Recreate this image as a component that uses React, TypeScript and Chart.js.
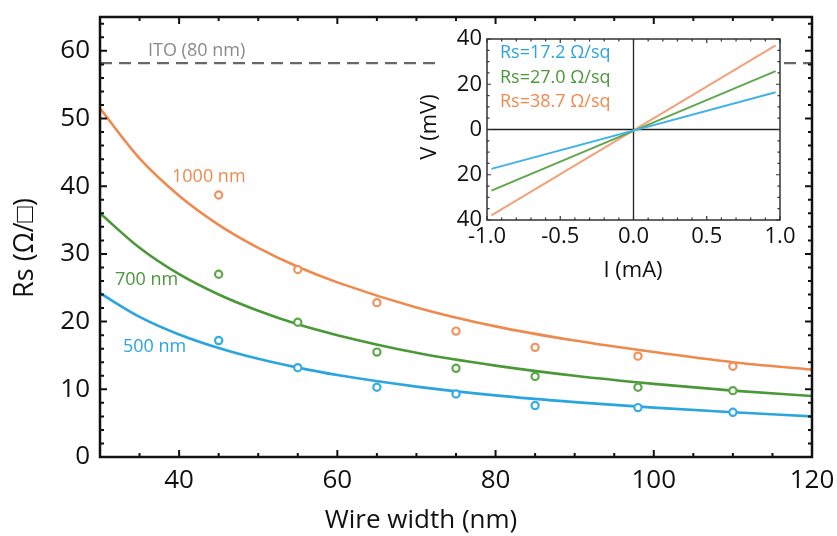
import React, { useEffect, useRef } from "react";
import { Chart, registerables } from "chart.js";

Chart.register(...registerables);

// ---------- Main chart data ----------
const WIDTHS = [45, 55, 65, 75, 85, 98, 110];
const RS_1000 = [38.7, 27.7, 22.8, 18.6, 16.2, 14.9, 13.4];
const RS_700 = [27.0, 19.9, 15.5, 13.1, 11.9, 10.3, 9.8];
const RS_500 = [17.2, 13.2, 10.3, 9.3, 7.6, 7.3, 6.6];

const FIT_X = [30, 35, 40, 45, 50, 55, 60, 70, 80, 90, 100, 110, 120];
const FIT_1000 = [51.5, 44.1, 38.6, 34.3, 30.9, 28.1, 25.8, 22.1, 19.3, 17.2, 15.5, 14.0, 12.9];
const FIT_700 = [36.0, 30.9, 27.0, 24.0, 21.6, 19.6, 18.0, 15.4, 13.5, 12.0, 10.8, 9.8, 9.0];
const FIT_500 = [24.2, 20.7, 18.1, 16.1, 14.5, 13.2, 12.1, 10.4, 9.1, 8.1, 7.3, 6.6, 6.0];

const ITO_X = [30, 120];
const ITO_Y = [58.2, 58.2];

const X_TICKS = [40, 60, 80, 100, 120];
const Y_TICKS = [0, 10, 20, 30, 40, 50, 60];

// ---------- Inset data ----------
const I_VALUES = [-0.97, 0.97];
const V_17 = [-17.4, 16.5];
const V_27 = [-27.0, 25.8];
const V_38 = [-38.0, 37.2];
const INSET_X_TICKS = [-1, -0.5, 0, 0.5, 1];
const INSET_Y_TICKS = [-40, -20, 0, 20, 40];
const INSET_LEGEND = ["Rs=17.2 Ω/sq", "Rs=27.0 Ω/sq", "Rs=38.7 Ω/sq"];

const ORANGE = "#ef8a4f";
const ORANGE_DOT = "#f0935c";
const GREEN = "#4a9838";
const GREEN_DOT = "#5ca848";
const BLUE = "#2aa5de";
const BLUE_DOT = "#35ace2";

const FONT = "'Open Sans', 'Noto Sans', sans-serif";

const pts = (xs: number[], ys: number[]) => xs.map((x, i) => ({ x, y: ys[i] }));

function drawTicks(ctx: CanvasRenderingContext2D, chart: any, xs: number[], xMajor: number[], ys: number[], yMajor: number[], majorLen: number, minorLen: number) {
  const a = chart.chartArea;
  const sx = chart.scales.x;
  const sy = chart.scales.y;
  ctx.beginPath();
  for (const v of xs) {
    const px = sx.getPixelForValue(v);
    const len = xMajor.some((m) => Math.abs(m - v) < 1e-6) ? majorLen : minorLen;
    ctx.moveTo(px, a.bottom);
    ctx.lineTo(px, a.bottom - len);
    ctx.moveTo(px, a.top);
    ctx.lineTo(px, a.top + len);
  }
  for (const v of ys) {
    const py = sy.getPixelForValue(v);
    const len = yMajor.some((m) => Math.abs(m - v) < 1e-6) ? majorLen : minorLen;
    ctx.moveTo(a.left, py);
    ctx.lineTo(a.left + len, py);
    ctx.moveTo(a.right, py);
    ctx.lineTo(a.right - len, py);
  }
  ctx.stroke();
}

const mainPlugin = {
  id: "mainDecor",
  afterDraw(chart: any) {
    const ctx: CanvasRenderingContext2D = chart.ctx;
    const a = chart.chartArea;
    ctx.save();
    ctx.font = `18px ${FONT}`;
    ctx.textBaseline = "middle";
    ctx.textAlign = "left";
    ctx.fillStyle = "#8a8a8a";
    ctx.fillText("ITO (80 nm)", 148, 51);
    ctx.fillStyle = ORANGE;
    ctx.fillText("1000 nm", 172, 177);
    ctx.fillStyle = GREEN;
    ctx.fillText("700 nm", 115, 280);
    ctx.fillStyle = BLUE;
    ctx.fillText("500 nm", 123, 347);

    ctx.fillStyle = "#111";
    ctx.font = `26px ${FONT}`;
    ctx.textAlign = "center";
    ctx.fillText("Wire width (nm)", 421, 521);
    ctx.save();
    ctx.translate(25, 248);
    ctx.rotate(-Math.PI / 2);
    ctx.font = `27px ${FONT}`;
    ctx.fillText("Rs (Ω/□)", 0, 0);
    ctx.restore();

    ctx.strokeStyle = "#111";
    ctx.lineWidth = 2;
    const xs: number[] = [];
    for (let v = 30; v <= 120; v += 5) xs.push(v);
    const ys: number[] = [];
    for (let v = 0; v <= 64; v += 2) ys.push(v);
    drawTicks(ctx, chart, xs, X_TICKS, ys, Y_TICKS, 7, 4);
    ctx.lineWidth = 2.5;
    ctx.strokeRect(a.left, a.top, a.right - a.left, a.bottom - a.top);
    ctx.restore();
  },
};

const INSET_WHITE_LEFT = 24;
const INSET_WHITE_RIGHT = 367;

const insetPlugin = {
  id: "insetDecor",
  beforeDraw(chart: any) {
    const ctx: CanvasRenderingContext2D = chart.ctx;
    ctx.save();
    ctx.fillStyle = "#ffffff";
    ctx.fillRect(INSET_WHITE_LEFT, 0, INSET_WHITE_RIGHT - INSET_WHITE_LEFT, chart.height);
    ctx.restore();
  },
  beforeDatasetsDraw(chart: any) {
    const ctx: CanvasRenderingContext2D = chart.ctx;
    const a = chart.chartArea;
    const sx = chart.scales.x;
    const sy = chart.scales.y;
    ctx.save();
    ctx.strokeStyle = "#222";
    ctx.lineWidth = 1.3;
    ctx.beginPath();
    const x0 = sx.getPixelForValue(0);
    const y0 = sy.getPixelForValue(0);
    ctx.moveTo(x0, a.top);
    ctx.lineTo(x0, a.bottom);
    ctx.moveTo(a.left, y0);
    ctx.lineTo(a.right, y0);
    ctx.stroke();
    ctx.restore();
  },
  afterDraw(chart: any) {
    const ctx: CanvasRenderingContext2D = chart.ctx;
    const a = chart.chartArea;
    ctx.save();
    ctx.font = `18px ${FONT}`;
    ctx.textBaseline = "middle";
    ctx.textAlign = "left";
    const cols = [BLUE, GREEN, ORANGE];
    INSET_LEGEND.forEach((t, i) => {
      ctx.fillStyle = cols[i];
      ctx.fillText(t, 84, 28 + i * 24.5);
    });
    ctx.fillStyle = "#111";
    ctx.font = `22px ${FONT}`;
    ctx.textAlign = "center";
    ctx.fillText("I (mA)", 217, 246);
    ctx.save();
    ctx.translate(14, 102);
    ctx.rotate(-Math.PI / 2);
    ctx.fillText("V (mV)", 0, 0);
    ctx.restore();

    ctx.strokeStyle = "#333";
    ctx.lineWidth = 1.2;
    const xs: number[] = [];
    for (let v = -10; v <= 10; v += 1) xs.push(v / 10);
    const ys: number[] = [];
    for (let v = -40; v <= 40; v += 5) ys.push(v);
    drawTicks(ctx, chart, xs, INSET_X_TICKS, ys, INSET_Y_TICKS, 4, 2.5);
    ctx.lineWidth = 1.5;
    ctx.strokeRect(a.left, a.top, a.right - a.left, a.bottom - a.top);
    ctx.restore();
  },
};

const noPadX = (h: number) => (s: any) => {
  s.height = h;
  s.paddingLeft = 0;
  s.paddingRight = 0;
};
const noPadY = (w: number) => (s: any) => {
  s.width = w;
  s.paddingTop = 0;
  s.paddingBottom = 0;
};

export default function App() {
  const mainRef = useRef<HTMLCanvasElement>(null);
  const insetRef = useRef<HTMLCanvasElement>(null);

  useEffect(() => {
    const dot = (label: string, ys: number[], color: string) => ({
      label,
      data: pts(WIDTHS, ys),
      showLine: false,
      pointRadius: 3.6,
      pointBorderWidth: 2.2,
      pointBorderColor: color,
      pointBackgroundColor: "#ffffff",
      order: 0,
    });
    const fit = (label: string, ys: number[], color: string) => ({
      label,
      data: pts(FIT_X, ys),
      showLine: true,
      borderColor: color,
      borderWidth: 2.6,
      pointRadius: 0,
      cubicInterpolationMode: "monotone" as const,
      order: 1,
    });
    const main = new Chart(mainRef.current!, {
      type: "scatter",
      data: {
        datasets: [
          dot("1000 nm data", RS_1000, ORANGE_DOT),
          dot("700 nm data", RS_700, GREEN_DOT),
          dot("500 nm data", RS_500, BLUE_DOT),
          fit("1000 nm fit", FIT_1000, ORANGE),
          fit("700 nm fit", FIT_700, GREEN),
          fit("500 nm fit", FIT_500, BLUE),
          {
            label: "ITO (80 nm)",
            data: pts(ITO_X, ITO_Y),
            showLine: true,
            borderColor: "#686868",
            borderWidth: 2.3,
            borderDash: [12, 7],
            pointRadius: 0,
            order: 2,
          },
        ],
      },
      options: {
        animation: false,
        responsive: false,
        layout: { padding: { left: 0, top: 17, right: 25, bottom: 0 } },
        plugins: { legend: { display: false }, tooltip: { enabled: false } },
        scales: {
          x: {
            type: "linear",
            min: 30,
            max: 120,
            afterBuildTicks: (s: any) => {
              s.ticks = X_TICKS.map((v) => ({ value: v }));
            },
            afterFit: noPadX(79),
            grid: { display: false, drawTicks: false },
            border: { display: false },
            ticks: { font: { family: FONT, size: 26 }, color: "#111", padding: 8, maxRotation: 0 },
          },
          y: {
            type: "linear",
            min: 0,
            max: 65,
            afterBuildTicks: (s: any) => {
              s.ticks = Y_TICKS.map((v) => ({ value: v }));
            },
            afterFit: noPadY(100),
            grid: { display: false, drawTicks: false },
            border: { display: false },
            ticks: { font: { family: FONT, size: 26 }, color: "#111", padding: 10 },
          },
        },
      },
      plugins: [mainPlugin],
    });

    const line = (label: string, ys: number[], color: string) => ({
      label,
      data: pts(I_VALUES, ys),
      showLine: true,
      borderColor: color,
      borderWidth: 2,
      pointRadius: 0,
    });
    const inset = new Chart(insetRef.current!, {
      type: "scatter",
      data: {
        datasets: [
          line(INSET_LEGEND[0], V_17, "#42b2e6"),
          line(INSET_LEGEND[1], V_27, "#5fa64e"),
          line(INSET_LEGEND[2], V_38, "#f2a17a"),
        ],
      },
      options: {
        animation: false,
        responsive: false,
        layout: { padding: { left: 0, top: 14, right: 21, bottom: 0 } },
        plugins: { legend: { display: false }, tooltip: { enabled: false } },
        scales: {
          x: {
            type: "linear",
            min: -1,
            max: 1,
            afterBuildTicks: (s: any) => {
              s.ticks = INSET_X_TICKS.map((v) => ({ value: v }));
            },
            afterFit: noPadX(67),
            grid: { display: false, drawTicks: false },
            border: { display: false },
            ticks: {
              font: { family: FONT, size: 22 },
              color: "#111",
              padding: 4,
              maxRotation: 0,
              callback: (v: any) => Number(v).toFixed(1),
            },
          },
          y: {
            type: "linear",
            min: -40,
            max: 40,
            afterBuildTicks: (s: any) => {
              s.ticks = INSET_Y_TICKS.map((v) => ({ value: v }));
            },
            afterFit: noPadY(71),
            grid: { display: false, drawTicks: false },
            border: { display: false },
            ticks: {
              font: { family: FONT, size: 22 },
              color: "#111",
              padding: 5,
              callback: (v: any) => String(Math.abs(Number(v))),
            },
          },
        },
      },
      plugins: [insetPlugin],
    });

    return () => {
      main.destroy();
      inset.destroy();
    };
  }, []);

  return (
    <div style={{ position: "fixed", left: 0, top: 0, width: 837, height: 536, background: "#fff" }}>
      <canvas ref={mainRef} width={837} height={536} style={{ position: "absolute", left: 0, top: 0 }} />
      <canvas ref={insetRef} width={385} height={262} style={{ position: "absolute", left: 416, top: 25 }} />
    </div>
  );
}
